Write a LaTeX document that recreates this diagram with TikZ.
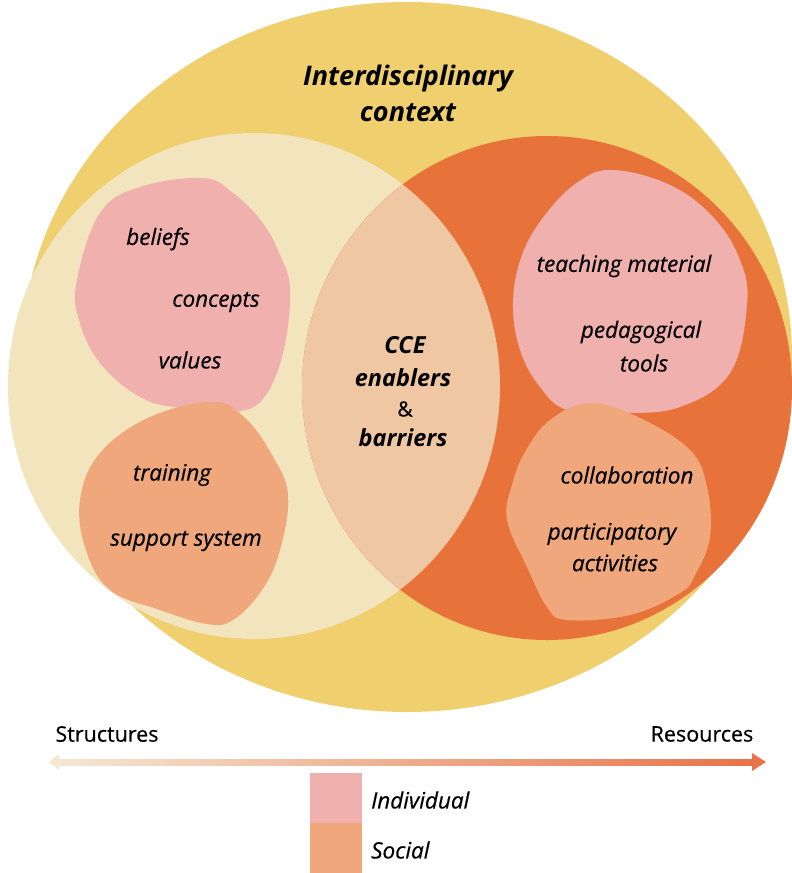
\documentclass[tikz,border=0pt]{standalone}
\usepackage{fontspec}
\setmainfont{Open Sans}[UprightFeatures={FakeBold=0.5}, ItalicFeatures={FakeBold=0.5}]
\usetikzlibrary{arrows.meta}
\definecolor{ctxyellow}{HTML}{F0CF6E}
\definecolor{structcream}{HTML}{F2E4BC}
\definecolor{resorange}{HTML}{E8733A}
\definecolor{lenspeach}{HTML}{EFC7A3}
\definecolor{indpink}{HTML}{F0B0AE}
\definecolor{socsalmon}{HTML}{F0A77C}
\definecolor{axispale}{HTML}{F4E8D2}
\definecolor{axisorange}{HTML}{E8724A}
\begin{document}
\begin{tikzpicture}[x=1pt,y=-1pt,
  item/.style={font=\itshape\fontsize{22.5}{26}\selectfont, inner sep=0pt, anchor=center},
  keyitem/.style={font=\bfseries\itshape\fontsize{23.5}{28}\selectfont, inner sep=0pt, anchor=center},
  title/.style={font=\bfseries\itshape\fontsize{27}{32}\selectfont, inner sep=0pt, anchor=center},
  axislabel/.style={font=\fontsize{21.5}{25}\selectfont, inner sep=0pt, anchor=center},
  blob/.style={smooth cycle, tension=0.65}]
\useasboundingbox (0,0) rectangle (792,873);
\fill[white] (0,0) rectangle (792,873);

% context circle
\fill[ctxyellow] (407,357) ellipse [x radius=385pt, y radius=355pt];

% structures and resources circles with their overlap
\fill[structcream] (254,386) ellipse [x radius=246pt, y radius=253pt];
\fill[resorange] (547,388) ellipse [x radius=245pt, y radius=252pt];
\begin{scope}
  \clip (254,386) ellipse [x radius=246pt, y radius=253pt];
  \fill[lenspeach] (547,388) ellipse [x radius=245pt, y radius=252pt];
\end{scope}

% individual / social blobs, structures side
\fill[indpink] plot[blob] coordinates {(203,178) (233,193) (262,222) (280,255) (290,290) (283,353) (262,400) (230,412) (180,408) (140,397) (100,363) (79,320) (77,280) (100,213) (140,187)};
\fill[socsalmon] plot[blob] coordinates {(213,402) (245,418) (272,455) (288,495) (280,550) (262,590) (233,620) (207,624) (160,610) (110,590) (86,550) (80,500) (100,453) (150,417)};

% individual / social blobs, resources side
\fill[indpink] plot[blob] coordinates {(613,170) (670,185) (713,217) (740,260) (747,305) (730,373) (680,407) (620,413) (567,410) (540,387) (520,350) (513,303) (522,255) (545,215) (578,182)};
\fill[socsalmon] plot[blob] coordinates {(590,403) (640,418) (690,450) (707,487) (710,537) (695,575) (680,593) (630,615) (567,620) (547,607) (527,567) (507,520) (512,485) (525,452) (550,420)};

% labels
\node[title] (ctx1) at (408,78) {Interdisciplinary};
\node[title] (ctx2) at (408,113) {context};

\node[item] (beliefs) at (158,239) {beliefs};
\node[item] (concepts) at (216,302) {concepts};
\node[item] (values) at (190,360) {values};
\node[item] (training) at (172,475) {training};
\node[item] (support) at (186,541) {support system};

\node[keyitem] (cce) at (405,345) {CCE};
\node[keyitem] (enablers) at (403,378) {enablers};
\node[item, font=\fontsize{21}{24}\selectfont] (amp) at (405,409) {\&};
\node[keyitem] (barriers) at (403,438) {barriers};

\node[item] (teaching) at (624,266) {teaching material};
\node[item] (pedag) at (641,332) {pedagogical};
\node[item] (tools) at (644,363) {tools};
\node[item] (collab) at (627,475) {collaboration};
\node[item] (partic) at (612,534) {participatory};
\node[item] (activ) at (615,563) {activities};

% structures -> resources axis
\node[axislabel] (structures) at (107,734) {Structures};
\node[axislabel] (resources) at (702,734) {Resources};
\coordinate (axL) at (56,762);
\coordinate (axR) at (754,762);
\shade[left color=axispale, right color=axisorange] ([yshift=-3pt]axL) rectangle ([yshift=3pt]axR);
\fill[axisorange] ([xshift=-2pt,yshift=-9pt]axR) -- ([xshift=12pt]axR) -- ([xshift=-2pt,yshift=9pt]axR) -- cycle;
\fill[axispale] ([xshift=3pt,yshift=-8pt]axL) -- ([xshift=-7pt]axL) -- ([xshift=3pt,yshift=8pt]axL) -- cycle;

% legend
\fill[indpink] (310,773) rectangle (362,823);
\fill[socsalmon] (310,823) rectangle (362,873);
\node[item, anchor=west] (ind) at (371,800) {Individual};
\node[item, anchor=west] (soc) at (371,850) {Social};
\end{tikzpicture}
\end{document}
